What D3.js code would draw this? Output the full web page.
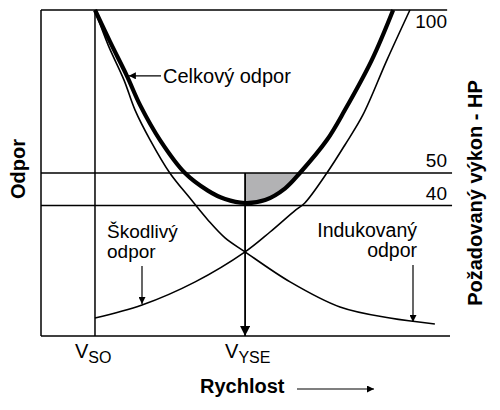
<!DOCTYPE html>
<html>
<head>
<meta charset="utf-8">
<script src="https://cdnjs.cloudflare.com/ajax/libs/d3/7.8.5/d3.min.js"></script>
<style>
  body { margin: 0; background: #fff; }
  text { font-family: "Liberation Sans", Arial, Helvetica, sans-serif; fill: #000; }
</style>
</head>
<body>
<div id="chart"></div>
<script>
// rychlost 0..100, odpor / vykon 0..100
var celkovyOdpor = [[13.2,100],[16.9,90.2],[21.0,79.8],[24.2,70.9],[29.1,60.1],[35.2,50.0],[40.8,44.6],[45.0,42.0],[49.9,40.8],[54.8,41.7],[59.7,45.3],[63.3,50.0],[69.9,60.1],[74.3,69.3],[80.9,84.7],[86.1,100]];
var indukovanyOdpor = [[13.2,100],[16.4,89.3],[20.3,78.5],[23.0,69.3],[26.7,60.1],[31.5,50],[36.4,42.3],[40.8,35.6],[45.0,30.1],[49.9,25.8],[60.9,16.6],[73.1,8.9],[85.3,5.5],[96.3,3.7]];
var skodlivyOdpor = [[13.2,5.5],[24.7,9.5],[37.7,16.6],[49.9,25.8],[56.0,31.9],[62.3,38.7],[64.5,40.8],[69.9,50],[74.3,58.6],[78.7,67.8],[84.6,84.7],[90.2,100]];
var rychlosti = [{v:13.2, main:"V", sub:"SO"}, {v:49.9, main:"V", sub:"YSE"}];
var vykonLinky = [50, 40];
var vykonPopisky = [100, 50, 40];

var width = 500, height = 410;
var x = d3.scaleLinear().domain([0,100]).range([41,450]);
var y = d3.scaleLinear().domain([0,100]).range([336,10]);

var svg = d3.select("#chart").append("svg")
  .attr("width", width).attr("height", height);

var defs = svg.append("defs");
defs.append("marker").attr("id","sipka")
  .attr("viewBox","0 0 10 10").attr("refX",10).attr("refY",5)
  .attr("markerUnits","userSpaceOnUse").attr("markerWidth",9).attr("markerHeight",7)
  .attr("orient","auto")
  .append("path").attr("d","M0,0L10,5L0,10z").attr("fill","#000");
defs.append("marker").attr("id","sipka2")
  .attr("viewBox","0 0 10 10").attr("refX",10).attr("refY",5)
  .attr("markerUnits","userSpaceOnUse").attr("markerWidth",13).attr("markerHeight",10)
  .attr("orient","auto")
  .append("path").attr("d","M0,0L10,5L0,10z").attr("fill","#000");

var vYse = rychlosti[1].v;
// vyplnena oblast mezi krivkou a linkou 50
defs.append("clipPath").attr("id","vyrez")
  .append("rect")
  .attr("x", x(vYse)).attr("y", y(50))
  .attr("width", x(80) - x(vYse)).attr("height", y(0) - y(50));

var krivka = d3.curveCatmullRom;
var line = d3.line().x(function(d){return x(d[0]);}).y(function(d){return y(d[1]);}).curve(krivka);
var area = d3.area().x(function(d){return x(d[0]);}).y0(y(50)).y1(function(d){return y(d[1]);}).curve(krivka);

svg.append("path").datum(celkovyOdpor)
  .attr("d", area).attr("fill","#b2b2b4").attr("clip-path","url(#vyrez)");

// ramecek
svg.append("line").attr("x1",x(0)).attr("x2",x(0)).attr("y1",y(100)).attr("y2",y(0))
  .attr("stroke","#000").attr("stroke-width",1.5);
svg.append("line").attr("x1",x(0)).attr("x2",x(99.3)).attr("y1",y(100)).attr("y2",y(100))
  .attr("stroke","#000").attr("stroke-width",1.5);
svg.append("line").attr("x1",x(0)).attr("x2",x(100)).attr("y1",y(0)).attr("y2",y(0))
  .attr("stroke","#000").attr("stroke-width",1.5);

svg.selectAll(".hl").data(vykonLinky).enter().append("line")
  .attr("x1",x(0)).attr("x2",x(100.5))
  .attr("y1",function(d){return y(d);}).attr("y2",function(d){return y(d);})
  .attr("stroke","#000").attr("stroke-width",1.5);

// V_SO svisla linka
svg.append("line").attr("x1",x(rychlosti[0].v)).attr("x2",x(rychlosti[0].v))
  .attr("y1",y(100)).attr("y2",y(0)).attr("stroke","#000").attr("stroke-width",1.5);

// V_YSE sipka
svg.append("line").attr("x1",x(vYse)).attr("x2",x(vYse))
  .attr("y1",y(50)).attr("y2",y(0)).attr("stroke","#000").attr("stroke-width",1.8)
  .attr("marker-end","url(#sipka2)");

svg.append("path").datum(indukovanyOdpor).attr("d",line)
  .attr("fill","none").attr("stroke","#000").attr("stroke-width",1.6);
svg.append("path").datum(skodlivyOdpor).attr("d",line)
  .attr("fill","none").attr("stroke","#000").attr("stroke-width",1.6);
svg.append("path").datum(celkovyOdpor).attr("d",line)
  .attr("fill","none").attr("stroke","#000").attr("stroke-width",4.2);

// popisky vykonu vpravo
svg.selectAll(".vp").data(vykonPopisky).enter().append("text")
  .attr("x", 447).attr("y", function(d){ return d == 100 ? 28 : y(d) - 6; })
  .attr("text-anchor","end").style("font-size","19px")
  .text(function(d){return d;});

// rychlosti dole
var rt = svg.selectAll(".rt").data(rychlosti).enter().append("text")
  .attr("x", function(d){return x(d.v) - 20;}).attr("y", 358)
  .style("font-size","20px");
rt.append("tspan").text(function(d){return d.main;});
rt.append("tspan").attr("dy",5).style("font-size","16px").text(function(d){return d.sub;});

// anotace
svg.append("line").attr("x1",161).attr("x2",x(21.0)+2).attr("y1",y(79.8)).attr("y2",y(79.8))
  .attr("stroke","#000").attr("stroke-width",1.2).attr("marker-end","url(#sipka)");
svg.append("text").attr("x",163).attr("y",y(79.8)+7).style("font-size","20px").text("Celkový odpor");

var sk = svg.append("text").attr("x",107).attr("y",238).style("font-size","19px");
sk.append("tspan").attr("x",107).text("Škodlivý");
sk.append("tspan").attr("x",107).attr("dy",20).text("odpor");
svg.append("line").attr("x1",142).attr("x2",142).attr("y1",266).attr("y2",y(9.5)-1)
  .attr("stroke","#000").attr("stroke-width",1.2).attr("marker-end","url(#sipka)");

var ind = svg.append("text").attr("x",417).attr("y",237).attr("text-anchor","end").style("font-size","19.5px");
ind.append("tspan").attr("x",417).text("Indukovaný");
ind.append("tspan").attr("x",417).attr("dy",20).text("odpor");
svg.append("line").attr("x1",413).attr("x2",413).attr("y1",265).attr("y2",322)
  .attr("stroke","#000").attr("stroke-width",1.2).attr("marker-end","url(#sipka)");

// nazvy os
svg.append("text").attr("x",200).attr("y",393).style("font-size","20px").style("font-weight","bold").text("Rychlost");
svg.append("line").attr("x1",297).attr("x2",374).attr("y1",389).attr("y2",389)
  .attr("stroke","#000").attr("stroke-width",1.2).attr("marker-end","url(#sipka)");

svg.append("text").attr("transform","translate(25,169) rotate(-90)")
  .attr("text-anchor","middle").style("font-size","20px").style("font-weight","bold").text("Odpor");
svg.append("text").attr("transform","translate(482,193) rotate(-90)")
  .attr("text-anchor","middle").style("font-size","20px").style("font-weight","bold").text("Požadovaný výkon - HP");
</script>
</body>
</html>
